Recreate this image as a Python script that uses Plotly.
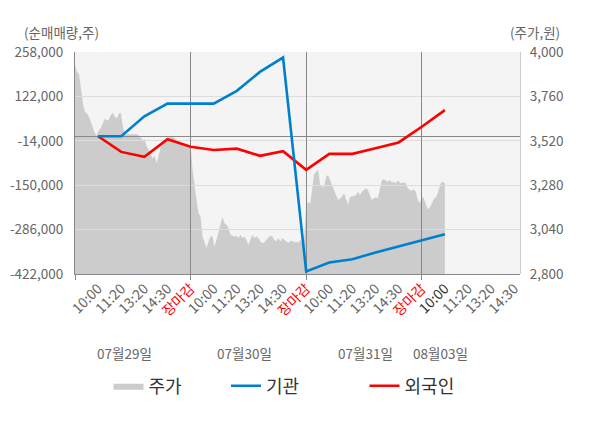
import numpy as np
import plotly.graph_objects as go

FONT = "Noto Sans CJK KR"

# ---------------- data ----------------
time_labels = ["10:00", "11:20", "13:20", "14:30", "장마감",
               "10:00", "11:20", "13:20", "14:30", "장마감",
               "10:00", "11:20", "13:20", "14:30", "장마감",
               "10:00", "11:20", "13:20", "14:30"]
day_labels = ["07월29일", "07월30일", "07월31일", "08월03일"]

# share price (원), intraday, per trading day
price_0729 = [3928, 3892, 3883, 3793, 3723, 3676, 3669, 3650, 3622, 3587,
              3560, 3551, 3578, 3590, 3620, 3641, 3628, 3635, 3660, 3672,
              3650, 3640, 3668, 3671, 3600, 3556, 3556, 3556, 3556, 3556,
              3556, 3556, 3550, 3536, 3524, 3527, 3488, 3470, 3443, 3425,
              3438, 3400, 3440, 3488, 3506, 3515, 3524, 3538, 3538, 3545,
              3533, 3527, 3524, 3515, 3506, 3497, 3488, 3485]
price_0730 = [3497, 3362, 3263, 3200, 3129, 3110, 3003, 2967, 2940, 2976,
              3003, 3003, 2949, 2985, 3030, 3075, 3110, 3075, 3066, 3048,
              3012, 3007, 3003, 3007, 2994, 3012, 2994, 3003, 2985, 2958,
              2985, 3012, 2994, 3003, 2994, 2976, 2967, 2970, 2985, 2999,
              3007, 3003, 2985, 2976, 2994, 2976, 2994, 2985, 2976, 2967,
              2976, 2981, 2970, 2976, 2967, 2985, 2967, 2985]
price_0731 = [3164, 3191, 3180, 3272, 3340, 3353, 3362, 3281, 3272, 3272,
              3326, 3335, 3308, 3281, 3263, 3237, 3200, 3210, 3218, 3237,
              3200, 3174, 3218, 3218, 3221, 3227, 3245, 3227, 3245, 3254,
              3263, 3254, 3227, 3200, 3210, 3215, 3210, 3254, 3308, 3312,
              3305, 3299, 3308, 3294, 3299, 3290, 3305, 3294, 3290, 3294,
              3290, 3263, 3254, 3250, 3258, 3245, 3200, 3183]
price_0803 = [3218, 3210, 3174, 3150, 3164, 3191, 3210, 3218, 3254, 3290,
              3299, 3290]

# cumulative net buying (주)
institution = [0, 0, 61000, 100000, 100000, 100000, 139000, 197000, 241000,
               -414000, -387000, -377000, -356000, -338000, -320000, -300000]
foreign = [0, -48000, -63000, -9000, -32000, -42000, -38000, -60000, -46000,
           -103000, -54000, -54000, -37000, -19000, 29000, 80000]

left_ticks = [258000, 122000, -14000, -150000, -286000, -422000]
right_ticks = [4000, 3760, 3520, 3280, 3040, 2800]

# ---------------- positions ----------------
slots_per_day = 5
price_days = [price_0729, price_0730, price_0731, price_0803]
px_x, px_y = [], []
for d, vals in enumerate(price_days):
    start = d * slots_per_day
    if d < len(price_days) - 1:
        xs = np.linspace(start, start + slots_per_day, len(vals), endpoint=False)
    else:
        xs = np.linspace(start, start + 1, len(vals))
    px_x.extend(xs.tolist())
    px_y.extend(vals)

line_x = list(range(1, len(institution) + 1))
tick_pos = list(range(1, len(time_labels) + 1))
x_range = [0, len(time_labels) + 0.25]


def fmt_tick(lbl, i):
    if lbl == "장마감":
        return f"<span style='color:#ff0000'>{lbl}</span>"
    if i == len(time_labels) - 4:
        return f"<span style='color:#333333'>{lbl}</span>"
    return lbl


ticktext = [fmt_tick(l, i) for i, l in enumerate(time_labels)]
close_pos = [0] + [p for p, l in zip(tick_pos, time_labels) if l == "장마감"]

# ---------------- figure ----------------
fig = go.Figure()
fig.add_trace(go.Scatter(
    x=px_x, y=px_y, xaxis="x", yaxis="y", mode="lines",
    line=dict(width=0, color="#cccccc"), fill="tozeroy",
    fillcolor="#cccccc", name="주가", legend="legend", hoverinfo="skip"))
fig.add_trace(go.Scatter(
    x=line_x, y=foreign, xaxis="x2", yaxis="y2", mode="lines",
    line=dict(width=2.6, color="#ff0000"), name="외국인", legend="legend3"))
fig.add_trace(go.Scatter(
    x=line_x, y=institution, xaxis="x3", yaxis="y2", mode="lines",
    line=dict(width=2.6, color="#0080cc"), name="기관", legend="legend2"))

fig.add_shape(type="rect", xref="paper", yref="paper", x0=0, x1=1, y0=0, y1=1,
              fillcolor="#f4f4f4", line=dict(width=0), layer="below")

legend_common = dict(orientation="h", yanchor="middle", y=-0.505,
                     xanchor="left", bgcolor="rgba(0,0,0,0)",
                     font=dict(family=FONT, size=18, color="#333333"))

fig.update_layout(
    width=600, height=428,
    margin=dict(l=67, r=88, t=44, b=162, autoexpand=False),
    paper_bgcolor="white", plot_bgcolor="rgba(0,0,0,0)",
    font=dict(family=FONT, size=13, color="#666666"),
    showlegend=True,
    legend=dict(x=0.0753, **legend_common),
    legend2=dict(x=0.3393, **legend_common),
    legend3=dict(x=0.6506, **legend_common),
    xaxis=dict(domain=[0, 1], range=x_range, anchor="y", visible=False),
    yaxis=dict(domain=[0, 1], range=[2800, 4000], anchor="x", side="right",
               tickvals=right_ticks, ticktext=[f"{v:,}" for v in right_ticks],
               showgrid=False, zeroline=False, showline=True,
               linecolor="#cccccc", ticks="", ticklabelstandoff=6,
               tickfont=dict(size=13.5, color="#666666")),
    xaxis2=dict(domain=[0, 1], range=x_range, anchor="y2",
                tickvals=tick_pos, ticktext=ticktext, tickangle=-45,
                showgrid=False, zeroline=False, showline=True,
                linecolor="#888888", ticks="",
                tickfont=dict(size=14, color="#666666")),
    yaxis2=dict(domain=[0, 1], range=[-422000, 258000], anchor="x2", side="left",
                tickvals=left_ticks, ticktext=[f"{v:,}" for v in left_ticks],
                showgrid=True, gridcolor="#dddddd", gridwidth=1,
                zeroline=True, zerolinecolor="#888888", zerolinewidth=1,
                showline=True, linecolor="#888888", ticks="",
                ticklabelstandoff=8,
                tickfont=dict(size=13.5, color="#666666")),
    xaxis3=dict(range=x_range, overlaying="x2", anchor="y2",
                tickvals=close_pos, showticklabels=False,
                showgrid=True, gridcolor="#888888", gridwidth=1,
                zeroline=False, ticks="outside", ticklen=5,
                tickcolor="#888888", showline=False),
)

# axis titles and day captions
fig.add_annotation(text="(순매매량,주)", xref="paper", yref="paper",
                   x=-0.12, y=1.088, xanchor="left", yanchor="middle",
                   showarrow=False, font=dict(size=13.5, color="#666666"))
fig.add_annotation(text="(주가,원)", xref="paper", yref="paper",
                   x=1.095, y=1.088, xanchor="right", yanchor="middle",
                   showarrow=False, font=dict(size=13.5, color="#666666"))

day_centers = [2.12, 7.33, 12.56, 15.82]
for lbl, cx in zip(day_labels, day_centers):
    fig.add_annotation(text=lbl, xref="x2", yref="paper", x=cx, y=-0.355,
                       xanchor="center", yanchor="middle", showarrow=False,
                       font=dict(size=13.5, color="#666666"))

fig.write_html("out.html")
